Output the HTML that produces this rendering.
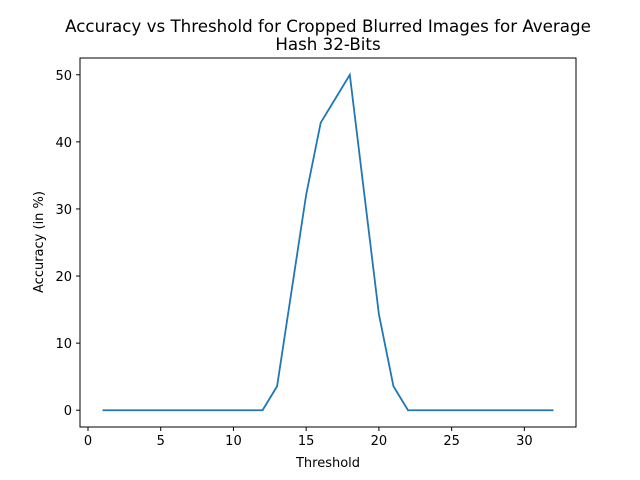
<!DOCTYPE html>
<html><head><meta charset="utf-8"><style>
body{margin:0;background:#fff}
svg{display:block;font-family:"DejaVu Sans","Liberation Sans",sans-serif}
</style></head><body>
<svg id="chart" width="640" height="480">
<rect width="640" height="480" fill="#fff"/>
<text x="328" y="32" text-anchor="middle" font-size="16.7">Accuracy vs Threshold for Cropped Blurred Images for Average</text>
<text x="328" y="50" text-anchor="middle" font-size="16.7">Hash 32-Bits</text>
<g id="plot"></g>
<rect x="80" y="58" width="496" height="369" fill="none" stroke="#000" stroke-width="1"/>
<text x="328" y="467" text-anchor="middle" font-size="13">Threshold</text>
<text transform="translate(43,242) rotate(-90)" text-anchor="middle" font-size="13">Accuracy (in %)</text>
</svg>
<script>
const thresholds=[1,2,3,4,5,6,7,8,9,10,11,12,13,14,15,16,17,18,19,20,21,22,23,24,25,26,27,28,29,30,31,32];
const accuracy=[0,0,0,0,0,0,0,0,0,0,0,0,3.57,17.86,32.14,42.86,46.43,50,32.14,14.29,3.57,0,0,0,0,0,0,0,0,0,0,0];
const xTicks=[0,5,10,15,20,25,30];
const yTicks=[0,10,20,30,40,50];
const L=80,R=576,T=58,B=427,xmin=-0.55,xmax=33.55,ymin=-2.5,ymax=52.5;
const sx=v=>L+(v-xmin)/(xmax-xmin)*(R-L);
const sy=v=>B-(v-ymin)/(ymax-ymin)*(B-T);
const NS='http://www.w3.org/2000/svg';
const g=document.getElementById('plot');
function mk(t,a){const e=document.createElementNS(NS,t);for(const k in a)e.setAttribute(k,a[k]);g.appendChild(e);return e;}
xTicks.forEach(v=>{
 const l=mk('line',{x1:sx(v),x2:sx(v),y1:B,y2:B+4,stroke:'#000'});
 
 
 const t=mk('text',{x:sx(v),y:B+18,'text-anchor':'middle','font-size':13});
 
 
 t.textContent=v;
});
yTicks.forEach(v=>{
 const l=mk('line',{x1:L-4,x2:L,y1:sy(v),y2:sy(v),stroke:'#000'});
 
 
 const t=mk('text',{x:L-8,y:sy(v)+5,'text-anchor':'end','font-size':13});
 
 
 t.textContent=v;
});
const p=mk('polyline',{points:thresholds.map((x,i)=>sx(x)+','+sy(accuracy[i])).join(' '),fill:'none',stroke:'#1f77b4','stroke-width':1.8,'stroke-linejoin':'miter'});


</script>
</body></html>
